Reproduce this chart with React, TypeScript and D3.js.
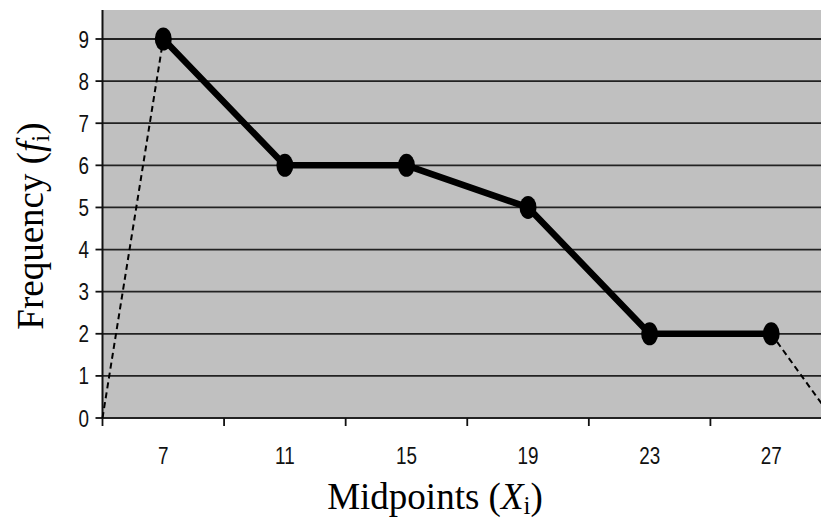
import { useEffect, useRef } from "react";
import * as d3 from "d3";

// Chart data
const midpoints = [7, 11, 15, 19, 23, 27];
const frequencies = [9, 6, 6, 5, 2, 2];
const yTicks = [0, 1, 2, 3, 4, 5, 6, 7, 8, 9];

const WIDTH = 821;
const HEIGHT = 522;

export default function App(): JSX.Element {
    const svgRef = useRef<SVGSVGElement>(null);

    useEffect(() => {
        document.body.style.margin = "0";

        const svg = d3.select(svgRef.current);
        svg.selectAll("*").remove();

        // Plot area (the right edge runs past the picture, as in the original)
        const left = 102.5;
        const right = 832;
        const top = 10;
        const bottom = 418;

        const x = d3.scaleBand<number>()
            .domain(midpoints)
            .range([left, right])
            .padding(0);
        const cx = (d: number) => (x(d) as number) + x.bandwidth() / 2;

        const y = d3.scaleLinear()
            .domain([0, 9])
            .range([bottom, 39]);

        // Gray background
        svg.append("rect")
            .attr("x", left)
            .attr("y", top)
            .attr("width", right - left)
            .attr("height", bottom - top)
            .attr("fill", "#c0c0c0");

        // Horizontal gridlines
        svg.append("g")
            .selectAll("line")
            .data(yTicks.filter(t => t > 0))
            .enter().append("line")
            .attr("x1", left)
            .attr("x2", right)
            .attr("y1", d => y(d))
            .attr("y2", d => y(d))
            .attr("stroke", "#222")
            .attr("stroke-width", 1.8);

        // Y axis
        svg.append("line")
            .attr("x1", left).attr("x2", left)
            .attr("y1", top).attr("y2", bottom + 1)
            .attr("stroke", "#111")
            .attr("stroke-width", 2);

        svg.append("g")
            .selectAll("line")
            .data(yTicks)
            .enter().append("line")
            .attr("x1", left - 7)
            .attr("x2", left)
            .attr("y1", d => y(d))
            .attr("y2", d => y(d))
            .attr("stroke", "#111")
            .attr("stroke-width", 1.8);

        svg.append("g")
            .selectAll("text")
            .data(yTicks)
            .enter().append("text")
            .attr("transform", d => `translate(89,${y(d) + 8.5}) scale(0.82,1)`)
            .attr("text-anchor", "end")
            .attr("font-family", "Liberation Sans, Arial, sans-serif")
            .attr("font-size", 23)
            .attr("fill", "#111")
            .text(d => d);

        // X axis
        svg.append("line")
            .attr("x1", left - 1).attr("x2", right)
            .attr("y1", bottom).attr("y2", bottom)
            .attr("stroke", "#222")
            .attr("stroke-width", 2);

        const boundaries = [...midpoints.map(d => x(d) as number), right];
        svg.append("g")
            .selectAll("line")
            .data(boundaries)
            .enter().append("line")
            .attr("x1", d => d)
            .attr("x2", d => d)
            .attr("y1", bottom)
            .attr("y2", bottom + 8)
            .attr("stroke", "#111")
            .attr("stroke-width", 1.8);

        svg.append("g")
            .selectAll("text")
            .data(midpoints)
            .enter().append("text")
            .attr("transform", d => `translate(${cx(d)},${bottom + 46}) scale(0.82,1)`)
            .attr("text-anchor", "middle")
            .attr("font-family", "Liberation Sans, Arial, sans-serif")
            .attr("font-size", 23)
            .attr("fill", "#111")
            .text(d => d);

        // Dashed extensions to zero at the plot edges
        const line = d3.line<[number, number]>()
            .x(d => d[0])
            .y(d => d[1]);

        const n = midpoints.length;
        const dashLeft: [number, number][] = [
            [left, y(0)],
            [cx(midpoints[0]), y(frequencies[0])]
        ];
        const dashRight: [number, number][] = [
            [cx(midpoints[n - 1]), y(frequencies[n - 1])],
            [right, y(0)]
        ];
        [dashLeft, dashRight].forEach(pts => {
            svg.append("path")
                .attr("d", line(pts))
                .attr("fill", "none")
                .attr("stroke", "#000")
                .attr("stroke-width", 2)
                .attr("stroke-dasharray", "6,4");
        });

        // Frequency polygon
        const pts: [number, number][] = midpoints.map((d, i) => [cx(d), y(frequencies[i])]);
        svg.append("path")
            .attr("d", line(pts))
            .attr("fill", "none")
            .attr("stroke", "#000")
            .attr("stroke-width", 6.5)
            .attr("stroke-linejoin", "round");

        svg.append("g")
            .selectAll("ellipse")
            .data(pts)
            .enter().append("ellipse")
            .attr("cx", d => d[0])
            .attr("cy", d => d[1])
            .attr("rx", 8.5)
            .attr("ry", 11.5)
            .attr("fill", "#000");

        // Axis titles
        const xTitle = svg.append("text")
            .attr("x", 435)
            .attr("y", 509)
            .attr("text-anchor", "middle")
            .attr("font-family", "Liberation Serif, Times New Roman, serif")
            .attr("font-size", 37)
            .attr("fill", "#000");
        xTitle.append("tspan").text("Midpoints (");
        xTitle.append("tspan").attr("font-style", "italic").text("X");
        xTitle.append("tspan").attr("font-size", 25).attr("dy", 5).text("i");
        xTitle.append("tspan").attr("dy", -5).text(")");

        const yTitle = svg.append("text")
            .attr("transform", "translate(43,226) rotate(-90)")
            .attr("text-anchor", "middle")
            .attr("font-family", "Liberation Serif, Times New Roman, serif")
            .attr("font-size", 37)
            .attr("fill", "#000");
        yTitle.append("tspan").text("Frequency (");
        yTitle.append("tspan").attr("font-style", "italic").text("f");
        yTitle.append("tspan").attr("font-size", 25).attr("dy", 6).text("i");
        yTitle.append("tspan").attr("dy", -6).text(")");
    }, []);

    return <svg ref={svgRef} width={WIDTH} height={HEIGHT} style={{ display: "block" }} />;
}
